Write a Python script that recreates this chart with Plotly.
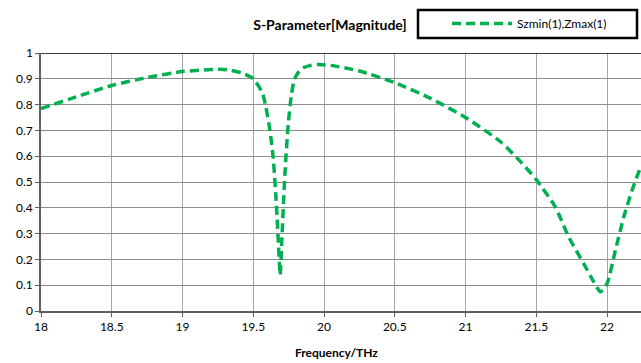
import plotly.graph_objects as go

freq = [18.0, 18.25, 18.5, 18.75, 19.0, 19.15, 19.27, 19.34, 19.42, 19.5, 19.564, 19.588,
        19.615, 19.64, 19.664, 19.679, 19.69, 19.702, 19.724, 19.748, 19.77, 19.79, 19.82,
        19.85, 19.9, 19.957, 20.05, 20.25, 20.5, 20.75, 21.0, 21.25, 21.4, 21.5, 21.634,
        21.729, 21.835, 21.906, 21.953, 22.0, 22.059, 22.118, 22.177, 22.224, 22.24]
mag = [0.785, 0.83, 0.874, 0.905, 0.928, 0.934, 0.937, 0.933, 0.922, 0.9, 0.846, 0.794,
       0.71, 0.6, 0.407, 0.25, 0.14, 0.277, 0.535, 0.729, 0.84, 0.897, 0.926,
       0.942, 0.951, 0.955, 0.952, 0.93, 0.885, 0.825, 0.75, 0.655, 0.572, 0.509, 0.404,
       0.287, 0.184, 0.113, 0.074, 0.106, 0.235, 0.364, 0.468, 0.539, 0.56]

series_name = "Szmin(1),Zmax(1)"
title_text = "S-Parameter[Magnitude]"
x_title = "Frequency/THz"
x_ticks = [18, 18.5, 19, 19.5, 20, 20.5, 21, 21.5, 22]
x_tick_labels = ["18", "18.5", "19", "19.5", "20", "20.5", "21", "21.5", "22"]
y_ticks = [0, 0.1, 0.2, 0.3, 0.4, 0.5, 0.6, 0.7, 0.8, 0.9, 1]
y_tick_labels = ["0", "0.1", "0.2", "0.3", "0.4", "0.5", "0.6", "0.7", "0.8", "0.9", "1"]

W, H = 641, 363
L, R, T, B = 41, 0, 53, 52
PW, PH = W - L - R, H - T - B

fig = go.Figure()
fig.add_trace(go.Scatter(
    x=freq, y=mag, mode="lines", name=series_name,
    line=dict(color="#00B050", width=3.5, dash="9px,5px", shape="spline", smoothing=0.6),
))

fig.update_layout(
    width=W, height=H,
    margin=dict(l=L, r=R, t=T, b=B, autoexpand=False),
    paper_bgcolor="white", plot_bgcolor="white",
    font=dict(family="Lato, Open Sans, sans-serif", size=12, color="black"),
    title=dict(text="<b>" + title_text + "</b>", x=330 / W, xanchor="center",
               y=1 - 25 / H, yanchor="middle", font=dict(size=14)),
    showlegend=True,
    legend=dict(xref="container", yref="container",
                x=447 / W, xanchor="left", y=1 - 9 / H, yanchor="top",
                bgcolor="rgba(0,0,0,0)", borderwidth=0,
                font=dict(size=12), itemwidth=60),
    xaxis=dict(range=[18, 22.24], tickvals=x_ticks, ticktext=x_tick_labels,
               showgrid=True, gridcolor="#a6a6a6", gridwidth=1,
               showline=True, linecolor="#606060", linewidth=1.5,
               ticks="outside", ticklen=4, tickcolor="#606060",
               automargin=False, zeroline=False),
    yaxis=dict(range=[0, 1], tickvals=y_ticks, ticktext=y_tick_labels,
               showgrid=True, gridcolor="#8c8c8c", gridwidth=1,
               showline=True, linecolor="#606060", linewidth=1.5,
               ticks="outside", ticklen=4, tickcolor="#606060",
               automargin=False, zeroline=False),
)
fig.add_annotation(text="<b>" + x_title + "</b>", xref="paper", yref="paper",
                   x=(336 - L) / PW, y=-41 / PH, xanchor="center", yanchor="middle",
                   showarrow=False, font=dict(size=12))
fig.add_shape(type="line", xref="paper", yref="y", x0=0, x1=1, y0=1, y1=1,
              line=dict(color="black", width=1.5))
# legend frame
fig.add_shape(type="rect", xref="paper", yref="paper",
              x0=(418 - L) / PW, x1=(637 - L) / PW,
              y0=(H - B - 38) / PH, y1=(H - B - 10) / PH,
              line=dict(color="black", width=2.5), fillcolor="rgba(0,0,0,0)")

fig.write_html("out.html", config={"displayModeBar": False},
               post_script="document.body.style.margin='0';document.body.style.overflow='hidden';")
